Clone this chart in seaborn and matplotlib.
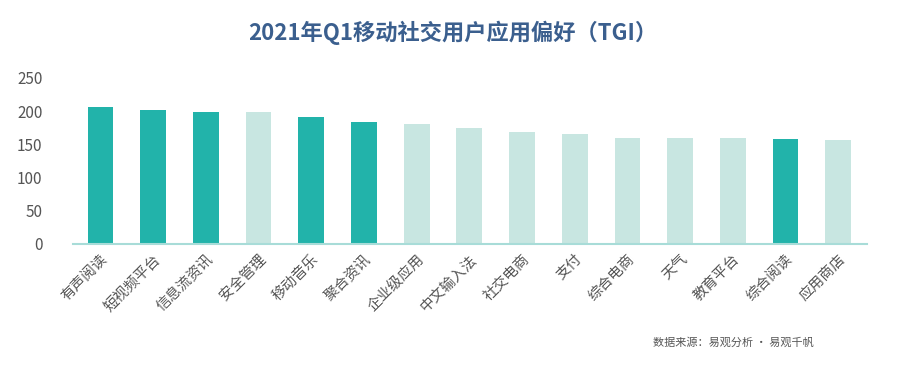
import matplotlib
matplotlib.use("Agg")
import matplotlib.pyplot as plt
import seaborn as sns
import pandas as pd

categories = ["有声阅读", "短视频平台", "信息流资讯", "安全管理", "移动音乐", "聚合资讯",
              "企业级应用", "中文输入法", "社交电商", "支付", "综合电商", "天气",
              "教育平台", "综合阅读", "应用商店"]
values = [206, 201, 199, 198, 191, 184, 180, 174, 169, 166, 160, 159, 159, 158, 156]
highlight = [1, 1, 1, 0, 1, 1, 0, 0, 0, 0, 0, 0, 0, 1, 0]
yticks = [0, 50, 100, 150, 200, 250]

DARK = "#22b3aa"
LIGHT = "#c8e6e1"

sns.set_theme(style="white")
plt.rcParams['font.family'] = ['Noto Sans CJK SC', 'DejaVu Sans']

df = pd.DataFrame({"cat": categories, "val": values,
                   "grp": ["hi" if h else "lo" for h in highlight]})

fig = plt.figure(figsize=(9.06, 3.69), dpi=100)
ax = fig.add_axes([0.0806, 0.339, 0.876, 0.45])
sns.barplot(data=df, x="cat", y="val", hue="grp", dodge=False,
            palette={"hi": DARK, "lo": LIGHT}, width=0.49, legend=False,
            saturation=1, edgecolor="none", ax=ax)

ax.set_xlim(-0.52, 14.54)
ax.set_ylim(0, 250)
ax.set_yticks(yticks)
ax.set_xlabel("")
ax.set_ylabel("")
for s in ["top", "right", "left"]:
    ax.spines[s].set_visible(False)
ax.spines["bottom"].set_color("#a8dcd8")
ax.spines["bottom"].set_linewidth(1.5)
ax.tick_params(axis="y", length=0, labelsize=11, labelcolor="#555555", pad=22)
ax.tick_params(axis="x", length=0, labelsize=10.5, labelcolor="#555555", pad=6)
for lab in ax.get_yticklabels():
    lab.set_horizontalalignment("right")
ax.set_xticks(range(len(categories)))
ax.set_xticklabels(categories, rotation=45, ha="right", rotation_mode="anchor")

fig.text(0.5, 0.912, "2021年Q1移动社交用户应用偏好（TGI）", ha="center", va="center",
         fontsize=16, fontweight="bold", color="#3b5f8e")
fig.text(0.721, 0.073, "数据来源：易观分析 · 易观千帆", ha="left", va="center",
         fontsize=8, color="#555555")

fig.savefig("out.png", dpi=100, facecolor="white")
